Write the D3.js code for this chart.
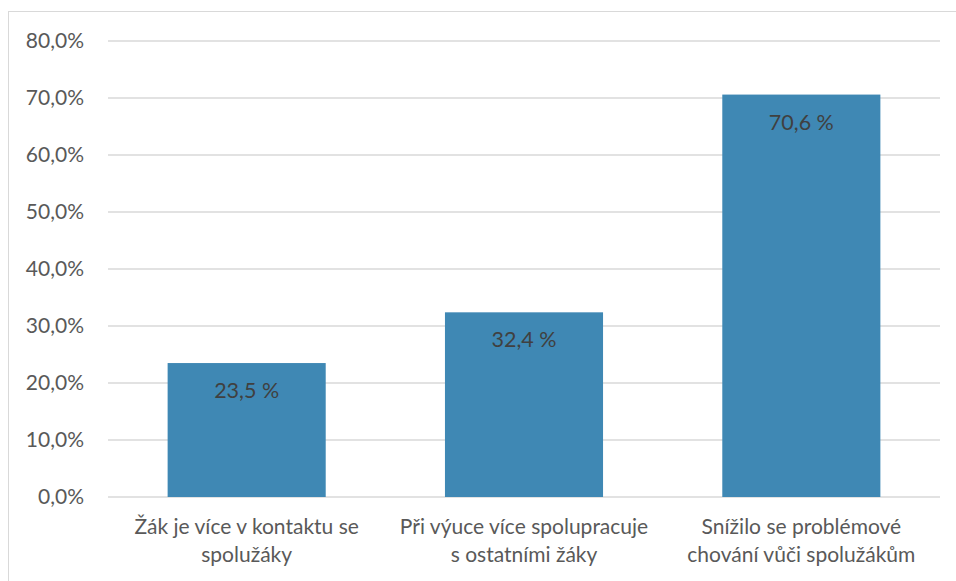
<!DOCTYPE html>
<html>
<head>
<meta charset="utf-8">
<script src="https://cdn.jsdelivr.net/npm/d3@7"></script>
<style>
  body { margin: 0; background: #fff; }
  svg { font-family: Lato, "Open Sans", sans-serif; }
</style>
</head>
<body>
<div id="chart"></div>
<script>
// data
var categories = [
  ["Žák je více v kontaktu se", "spolužáky"],
  ["Při výuce více spolupracuje", "s ostatními žáky"],
  ["Snížilo se problémové", "chování vůči spolužákům"]
];
var values = [23.5, 32.4, 70.6];
var yTicks = [0, 10, 20, 30, 40, 50, 60, 70, 80];

var W = 956, H = 581;
var margin = {top: 41, right: 16, bottom: 84, left: 108},
  width = W - margin.left - margin.right,
  height = H - margin.top - margin.bottom;

var svg = d3.select("#chart")
  .append("svg")
    .attr("width", W)
    .attr("height", H);

// chart border
svg.append("rect")
  .attr("x", 8.5).attr("y", 11.5)
  .attr("width", W).attr("height", H)
  .attr("fill", "none")
  .attr("stroke", "#d9d9d9")
  .attr("stroke-width", 1);

var g = svg.append("g")
  .attr("transform", "translate(" + margin.left + "," + margin.top + ")");

var x = d3.scaleBand()
  .range([0, width])
  .domain(d3.range(categories.length))
  .paddingInner(0.43)
  .paddingOuter(0.215);

var y = d3.scaleLinear()
  .range([height, 0])
  .domain([0, 80]);

// gridlines
g.selectAll(".grid")
  .data(yTicks)
  .enter()
  .append("line")
    .attr("x1", 0)
    .attr("x2", width)
    .attr("y1", function(d) { return y(d); })
    .attr("y2", function(d) { return y(d); })
    .attr("stroke", "#d9d9d9")
    .attr("stroke-width", 1.5);

// y axis
var yAxis = g.append("g")
  .call(d3.axisLeft(y).tickValues(yTicks).tickSize(0).tickPadding(24)
    .tickFormat(function(d) { return d3.format(".1f")(d).replace(".", ",") + "%"; }));
yAxis.select(".domain").remove();
yAxis.selectAll("text")
  .style("font-size", "21px")
  .style("font-family", "Lato, 'Open Sans', sans-serif")
  .attr("fill", "#595959");

// bars
g.selectAll(".bar")
  .data(values)
  .enter()
  .append("rect")
    .attr("x", function(d, i) { return x(i); })
    .attr("y", function(d) { return y(d); })
    .attr("width", x.bandwidth())
    .attr("height", function(d) { return height - y(d); })
    .attr("fill", "#3f88b4");

// value labels
g.selectAll(".lbl")
  .data(values)
  .enter()
  .append("text")
    .attr("x", function(d, i) { return x(i) + x.bandwidth() / 2; })
    .attr("y", function(d) { return y(d) + 35; })
    .attr("text-anchor", "middle")
    .style("font-size", "21.5px")
    .attr("fill", "#404040")
    .text(function(d) { return d3.format(".1f")(d).replace(".", ",") + " %"; });

// category labels
var cat = g.selectAll(".cat")
  .data(categories)
  .enter()
  .append("text")
    .attr("text-anchor", "middle")
    .attr("transform", function(d, i) {
      return "translate(" + (x(i) + x.bandwidth() / 2) + "," + (height + 37) + ")";
    })
    .style("font-size", "21px")
    .attr("fill", "#595959");
cat.selectAll("tspan")
  .data(function(d) { return d; })
  .enter()
  .append("tspan")
    .attr("x", 0)
    .attr("dy", function(d, i) { return i === 0 ? 0 : 28; })
    .text(function(d) { return d; });
</script>
</body>
</html>
